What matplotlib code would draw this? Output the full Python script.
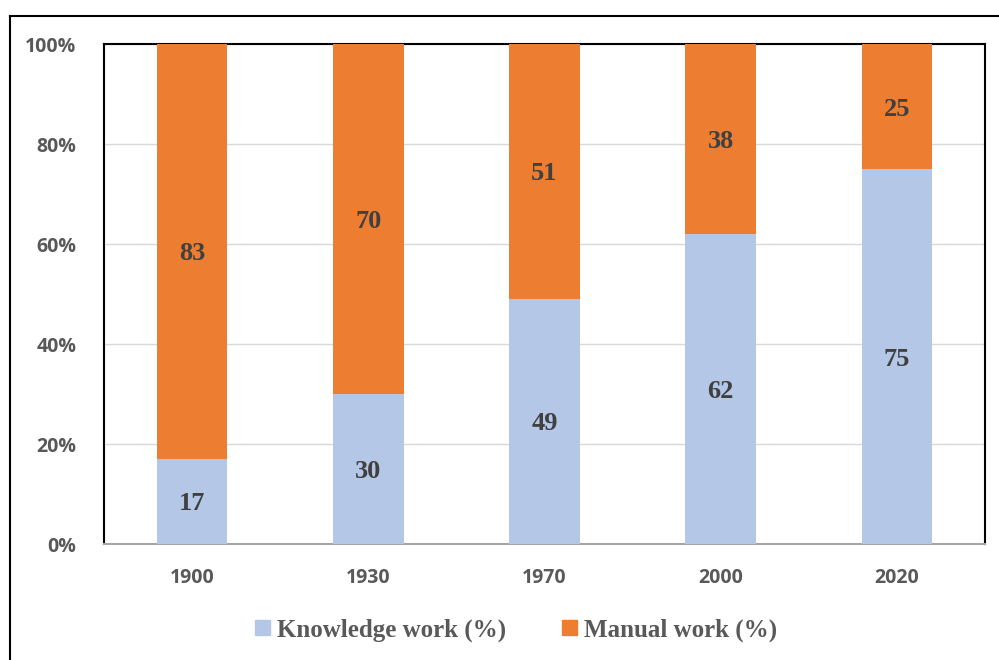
import matplotlib.pyplot as plt
from matplotlib.lines import Line2D
from matplotlib.patches import Patch

years = ["1900", "1930", "1970", "2000", "2020"]
knowledge = [17, 30, 49, 62, 75]
manual = [83, 70, 51, 38, 25]

blue = "#B4C7E7"
orange = "#ED7D31"
gray = "#595959"

fig = plt.figure(figsize=(9.99, 6.6), dpi=100)
ax = fig.add_axes([104 / 999, (660 - 544) / 660, (985 - 104) / 999, 500 / 660])

x = range(len(years))
ax.bar(x, knowledge, width=0.4, color=blue, zorder=3)
ax.bar(x, manual, width=0.4, bottom=knowledge, color=orange, zorder=3)

for i in x:
    ax.text(i, knowledge[i] / 2, str(knowledge[i]), ha="center", va="center_baseline",
            fontsize=19, fontweight="heavy", family="Liberation Serif",
            color="#404040", zorder=4)
    ax.text(i, knowledge[i] + manual[i] / 2, str(manual[i]), ha="center",
            va="center_baseline", fontsize=19, fontweight="heavy",
            family="Liberation Serif", color="#404040", zorder=4)

ax.set_xlim(-0.5, 4.5)
ax.set_ylim(0, 100)
ax.set_yticks(range(0, 101, 20))
ax.set_yticklabels([f"{v}%" for v in range(0, 101, 20)])
ax.set_xticks(list(x))
ax.set_xticklabels(years)
ax.yaxis.grid(True, color="#D9D9D9", linewidth=1, zorder=0)
ax.tick_params(length=0, labelsize=14, labelcolor=gray)
ax.tick_params(axis="x", pad=17)
ax.tick_params(axis="y", pad=20)
for lab in ax.get_xticklabels() + ax.get_yticklabels():
    lab.set_fontweight("bold")
    lab.set_family("Open Sans")

for side in ["left", "right", "top"]:
    ax.spines[side].set_color("black")
    ax.spines[side].set_linewidth(1.5)
ax.spines["bottom"].set_color("#A6A6A6")
ax.spines["bottom"].set_linewidth(1.5)

handles = [Patch(color=blue, label="Knowledge work (%)"),
           Patch(color=orange, label="Manual work (%)")]
fig.legend(handles=handles, loc="center", bbox_to_anchor=(516 / 999, 1 - 630 / 660),
           ncol=2, frameon=False, handlelength=0.6, handleheight=0.6,
           handletextpad=0.3, columnspacing=2.2,
           prop={"family": "Liberation Serif", "weight": "bold", "size": 18},
           labelcolor=gray)

# outer frame
fig.add_artist(Line2D([10 / 999, 10 / 999], [0, 1 - 16 / 660], color="black",
                      linewidth=1.5, transform=fig.transFigure))
fig.add_artist(Line2D([10 / 999, 1], [1 - 16 / 660, 1 - 16 / 660], color="black",
                      linewidth=1.5, transform=fig.transFigure))

fig.savefig("out.png", dpi=100)
